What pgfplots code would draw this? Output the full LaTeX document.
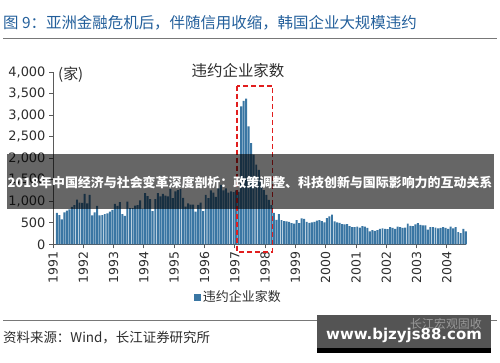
\documentclass[border=0pt]{standalone}
\usepackage{fontspec}
\usepackage{pgfplots}
\usepackage{pgfplotstable}
\pgfplotsset{compat=1.18}
\setmainfont{DejaVu Sans}
\newfontfamily\cjk{Noto Sans CJK SC}
\definecolor{titleblue}{RGB}{35,95,155}
\definecolor{barblue}{RGB}{58,118,163}
\definecolor{axisgray}{RGB}{90,90,90}
\definecolor{textgray}{RGB}{45,45,45}
\definecolor{boxred}{RGB}{225,30,30}
\definecolor{linegray}{RGB}{120,120,120}
\pgfplotstableread{
v
730
680
580
740
780
810
870
910
1040
970
960
1170
950
1150
670
740
890
670
680
700
720
760
800
940
890
980
700
660
990
840
840
900
910
1020
830
1190
1120
1050
770
1050
1190
1110
1170
1130
1110
1280
1070
1230
1260
1280
1080
875
950
920
920
760
915
970
770
1150
1070
1250
1200
1100
1300
1380
1250
1300
1200
1230
1210
1250
1220
3200
3330
3380
2740
2350
2080
1850
1730
1500
1260
1150
1030
910
730
570
700
560
540
530
520
490
480
560
490
600
590
520
500
510
520
550
560
540
510
610
650
690
530
510
500
470
460
470
420
400
400
410
390
420
410
380
300
330
310
330
360
370
360
350
400
380
360
410
400
380
390
480
430
420
460
490
450
440
440
340
400
400
390
370
380
400
380
360
410
370
400
280
260
360
300
}\defaults
\begin{document}
\begin{tikzpicture}[x=1bp,y=1bp]
\path[use as bounding box] (0,0) rectangle (500,362);
% title
\node[anchor=west, inner sep=0, text=titleblue, font=\cjk\fontsize{15.5}{16}\selectfont] at (3,339) {图 9：亚洲金融危机后，伴随信用收缩，韩国企业大规模违约};
\draw[linegray, line width=1bp] (3,323.7) -- (497,323.7);
\begin{axis}[
  at={(53bp,117.7bp)}, anchor=south west,
  scale only axis, width=412.8bp, height=172.3bp,
  xmin=0, xmax=163.5, ymin=0, ymax=4000,
  axis x line=bottom, axis y line=left,
  axis line style={-, draw=axisgray, line width=0.9bp},
  xtick={0,12,...,156},
  xticklabels={1991,1992,1993,1994,1995,1996,1997,1998,1999,2000,2001,2002,2003,2004},
  ytick={0,500,...,4000},
  scaled y ticks=false,
  tick align=outside, major tick length=4bp,
  tick style={draw=axisgray, line width=0.9bp},
  x tick label style={rotate=90, anchor=east, font=\fontsize{12.5}{13}\selectfont, text=textgray},
  y tick label style={font=\fontsize{13}{13}\selectfont, text=textgray},
  /pgf/number format/1000 sep={,},
  /pgf/number format/assume math mode=true,
  clip=false,
  legend style={at={(axis description cs:0.449,-0.306)}, anchor=center, draw=none, fill=none,
    font=\cjk\fontsize{13}{13}\selectfont, text=textgray,
    /tikz/every even column/.style={column sep=2bp}},
  legend image code/.code={\fill[barblue] (0bp,-3.5bp) rectangle (7bp,3.5bp);},
]
\addplot[ybar, bar width=0.78, fill=barblue, draw=none] table[x expr=\coordindex+1.5, y=v] {\defaults};
\addlegendentry{违约企业家数}
\draw[boxred, line width=1.8bp, dash pattern=on 5bp off 3bp] (axis cs:73,3682) rectangle (axis cs:86.9,-172);
\end{axis}
\node[text=textgray, font=\cjk\fontsize{15.5}{16}\selectfont] at (238,291) {违约企业家数};
\node[anchor=west, inner sep=0, text=textgray, font=\cjk\fontsize{15}{16}\selectfont] at (58,287) {(家)};
% overlay banner
\fill[black, opacity=0.6] (7,208) rectangle (494,153);
\node[text=white, font=\cjk\bfseries\fontsize{13}{14}\selectfont] at (250,179) {2018年中国经济与社会变革深度剖析：政策调整、科技创新与国际影响力的互动关系};
% bottom
\draw[linegray, line width=1bp] (3,41.3) -- (497,41.3);
\node[anchor=west, inner sep=0, text=textgray, font=\cjk\fontsize{13.5}{14}\selectfont] at (3,24.5) {资料来源：Wind，长江证券研究所};
\fill[black!67] (317,47) rectangle (491,14);
\fill[black] (317,14) rectangle (491,9.3);
\node[text=black!40, font=\cjk\fontsize{12}{12}\selectfont] at (446,38.5) {长江宏观固收};
\node[text=white, font=\bfseries\fontsize{15}{16}\selectfont] at (404,27) {www.bjzyjs88.com};
\end{tikzpicture}
\end{document}
